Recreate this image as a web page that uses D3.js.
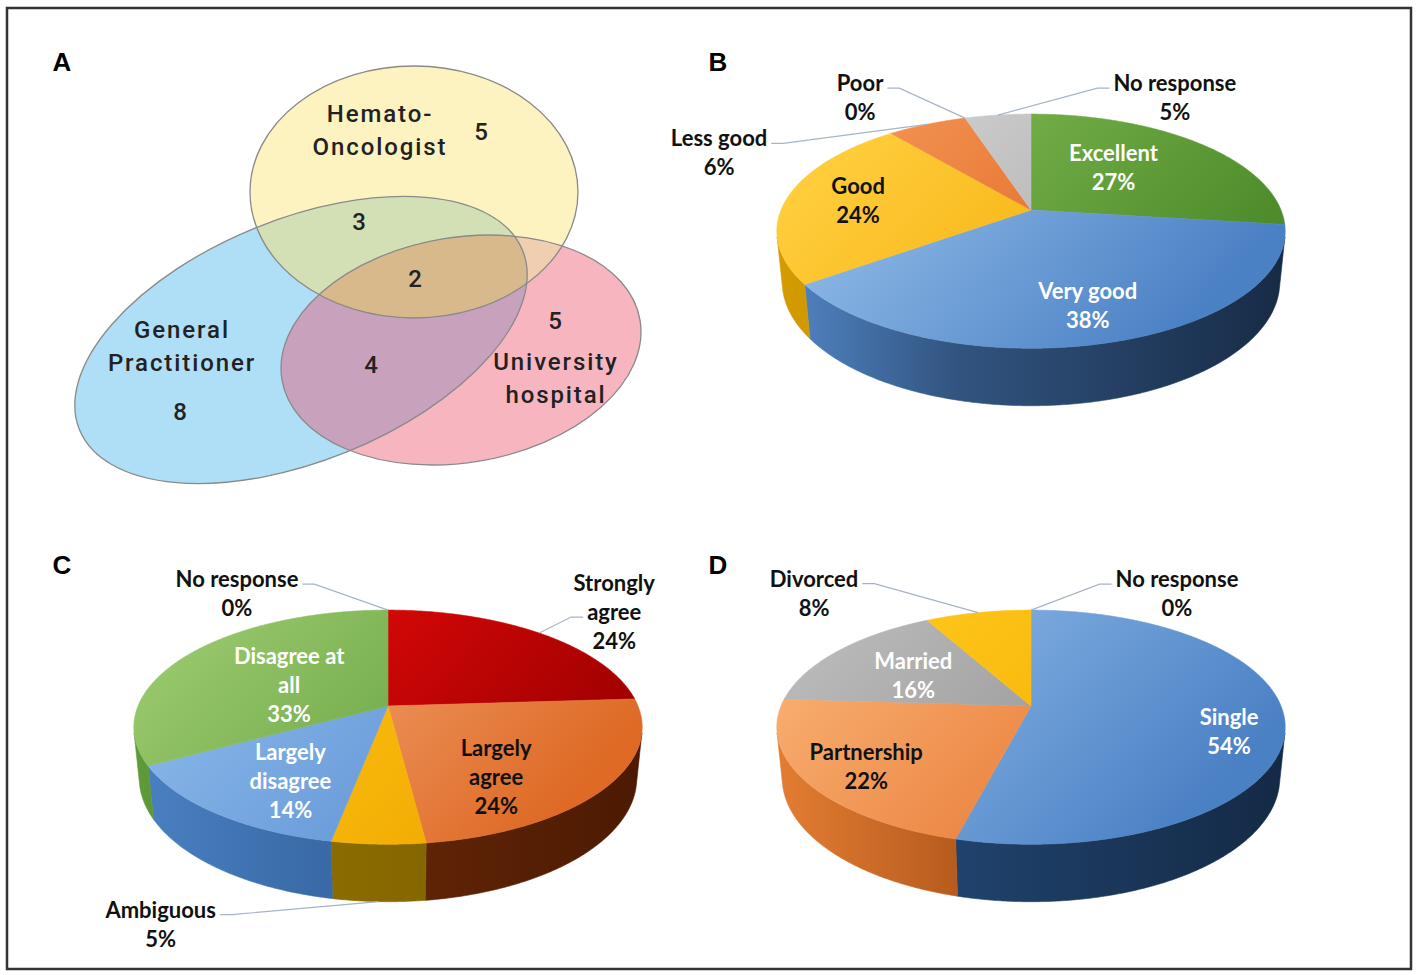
<!DOCTYPE html>
<html>
<head>
<meta charset="utf-8">
<script src="https://cdn.jsdelivr.net/npm/d3@7"></script>
<style>
  body { margin: 0; background: #fff; }
  svg { display: block; }
</style>
</head>
<body>
<script>
'use strict';

// ---- data ----
// A: Venn counts
const vennGroups = ["Hemato-\nOncologist", "General\nPractitioner", "University\nhospital"];
const vennRegions = ["H", "G", "U", "H+G", "G+U", "H+G+U"];
const vennCounts = [5, 8, 5, 3, 4, 2];

// B: rating
const ratingLabels = ["Excellent", "Very good", "Good", "Less good", "Poor", "No response"];
const ratingValues = [27, 38, 24, 6, 0, 5];

// C: agreement
const agreeLabels = ["Strongly agree", "Largely agree", "Ambiguous", "Largely disagree", "Disagree at all", "No response"];
const agreeValues = [24, 24, 5, 14, 33, 0];

// D: marital status
const statusLabels = ["Single", "Partnership", "Married", "Divorced", "No response"];
const statusValues = [54, 22, 16, 8, 0];

// ---- styles / layout ----
const panelLetters = ["A", "B", "C", "D"];
const letterPos = [[62, 62], [718, 62], [62, 565], [718, 565]];

const vennShapes = [
    { cx: 414, cy: 192, rx: 164, ry: 126, rot: 0 },
    { cx: 301, cy: 340, rx: 239, ry: 121, rot: -22 },
    { cx: 461, cy: 350, rx: 181.5, ry: 112.6, rot: -9.4 }
];
const vennFill = ["#FDF3C1", "#AEDFF7", "#F7B6BF"];
const vennPairFill = { HG: "#D3E0B6", GU: "#C8A2BC", HU: "#EFCFB0", HGU: "#D7B98B" };
const vennGroupPos = [[380, 113], [182, 329], [556, 361]];
const vennCountPos = [[482, 131], [181, 411], [556, 320], [360, 221], [372, 364], [416, 278]];

// perspective of the 3D pies (radius = 1 units)
const view = { kR: 250, sinE: 0.453, cosE: 0.891, D: 4.93, H: 0.23 };

const ratingColors = [
    { top: ["#82BC52", "#4C8A2A"], wall: ["#5E9A36", "#2E5A18"] },
    { top: ["#96C0EA", "#4A80C4"], wall: ["#5286C6", "#172B46"] },
    { top: ["#FFCD3C", "#F2A800"], wall: ["#D49C00", "#A87800"] },
    { top: ["#F39452", "#DE5E1C"], wall: ["#C0501A", "#8A3208"] },
    { top: ["#F39452", "#DE5E1C"], wall: ["#C0501A", "#8A3208"] },
    { top: ["#D2D2D2", "#A8A8A8"], wall: ["#A0A0A0", "#6A6A6A"] }
];
const agreeColors = [
    { top: ["#EC0A0A", "#9C0000"], wall: ["#900000", "#5A0000"] },
    { top: ["#F6AC7C", "#DE6A26"], wall: ["#8C3C10", "#4C1A02"] },
    { top: ["#FFC416", "#F0A800"], wall: ["#A07E00", "#7A5E00"] },
    { top: ["#8AB8E8", "#5A8ED4"], wall: ["#4A80C2", "#2C5A92"] },
    { top: ["#96C66A", "#5A9A36"], wall: ["#5E9A36", "#3C7420"] },
    { top: ["#D2D2D2", "#A8A8A8"], wall: ["#A0A0A0", "#6A6A6A"] }
];
const statusColors = [
    { top: ["#8EBAE8", "#4A80C4"], wall: ["#2E609A", "#142A46"] },
    { top: ["#F7AC6E", "#E6702A"], wall: ["#E27C32", "#94420E"] },
    { top: ["#B8B8B8", "#8C8C8C"], wall: ["#8C8C8C", "#5A5A5A"] },
    { top: ["#FFC81C", "#F4AC00"], wall: ["#C89400", "#9A7200"] },
    { top: ["#D2D2D2", "#A8A8A8"], wall: ["#A0A0A0", "#6A6A6A"] }
];

// inside labels: index -> [radius, dx, dy, colour]; outside: index -> [radius, level, dx, dy, leaderLine]
const ratingInside = { 0: [0.5, -6, -7, "#fff"], 1: [0.75, 3, 1, "#fff"], 2: [0.65, -14, 0, "#111"] };
const ratingOutside = { 3: [1, 0, -208, 14, 0], 4: [1, 0, -105, -35, 0], 5: [1, 0, 177, -32, 0] };
const agreeInside = { 4: [0.5, 4, 7, "#fff"], 3: [0.7, 17, 4, "#fff"], 1: [0.6, -16, 25, "#111"] };
const agreeOutside = { 5: [1, 0, -151, -31, 0], 0: [1, 0, 75, -50, 1], 2: [1, 1, -218, 8, 0] };
const statusInside = { 0: [0.8, -4, 14, "#fff"], 1: [0.75, 0, 6, "#111"], 2: [0.6, 2, 4, "#fff"] };
const statusOutside = { 3: [1, 0, -164, -34, 0], 4: [1, 0, 146, -31, 0] };

const W = 1417, H = 975;
const lineH = 29;
const pieFont = "Lato, 'Open Sans', sans-serif";

const svg = d3.select("body").append("svg")
    .attr("width", W)
    .attr("height", H);
const defs = svg.append("defs");

// frame
svg.append("rect")
    .attr("x", 7).attr("y", 8)
    .attr("width", 1404).attr("height", 961)
    .attr("fill", "none")
    .attr("stroke", "#333")
    .attr("stroke-width", 2.5);

// panel letters
svg.selectAll("text.panel")
    .data(panelLetters)
    .enter()
    .append("text")
    .attr("class", "panel")
    .attr("x", (d, i) => letterPos[i][0])
    .attr("y", (d, i) => letterPos[i][1])
    .attr("dy", "0.36em")
    .attr("text-anchor", "middle")
    .style("font-family", "'Liberation Sans', Arial, sans-serif")
    .style("font-weight", "bold")
    .style("font-size", "26px")
    .text(d => d);

// ---- A: Venn ----
function drawVenn() {
    const g = svg.append("g");
    const ell = (sel, s) => sel
        .attr("cx", 0).attr("cy", 0)
        .attr("rx", s.rx).attr("ry", s.ry)
        .attr("transform", `translate(${s.cx},${s.cy}) rotate(${s.rot})`);

    vennShapes.forEach((s, i) => {
        defs.append("clipPath").attr("id", "vclip" + i)
            .append("ellipse").call(ell, s);
    });

    // single sets (blue first, then pink, then yellow)
    [1, 2, 0].forEach(i => {
        g.append("ellipse").call(ell, vennShapes[i]).attr("fill", vennFill[i]);
    });
    // pairs
    g.append("g").attr("clip-path", "url(#vclip1)")
        .append("ellipse").call(ell, vennShapes[0]).attr("fill", vennPairFill.HG);
    g.append("g").attr("clip-path", "url(#vclip2)")
        .append("ellipse").call(ell, vennShapes[1]).attr("fill", vennPairFill.GU);
    g.append("g").attr("clip-path", "url(#vclip2)")
        .append("ellipse").call(ell, vennShapes[0]).attr("fill", vennPairFill.HU);
    // triple
    g.append("g").attr("clip-path", "url(#vclip1)")
        .append("g").attr("clip-path", "url(#vclip2)")
        .append("ellipse").call(ell, vennShapes[0]).attr("fill", vennPairFill.HGU);
    // outlines
    vennShapes.forEach(s => {
        g.append("ellipse").call(ell, s)
            .attr("fill", "none")
            .attr("stroke", "#8a8a8a")
            .attr("stroke-width", 1.3);
    });

    const txt = (x, y, t) => g.append("text")
        .attr("x", x).attr("y", y).attr("dy", "0.36em")
        .attr("text-anchor", "middle")
        .style("font-family", "Roboto, 'Liberation Sans', sans-serif")
        .style("font-weight", 500)
        .style("font-size", "24px")
        .style("letter-spacing", "1.9px")
        .attr("fill", "#222")
        .text(t);

    vennGroups.forEach((name, i) => {
        name.split("\n").forEach((ln, k) => {
            txt(vennGroupPos[i][0], vennGroupPos[i][1] + k * 33, ln);
        });
    });
    vennCounts.forEach((n, i) => {
        txt(vennCountPos[i][0], vennCountPos[i][1], n);
    });
}

// ---- 3D pies ----
function project(cx, cy, a, r, level) {
    const x = r * Math.sin(a), z = -r * Math.cos(a), y = -level * view.H;
    const vy = y * view.cosE - z * view.sinE;
    const depth = view.D - (y * view.sinE + z * view.cosE);
    const s = view.kR * view.D / depth;
    return [cx + x * s, cy - vy * s];
}

const silA = Math.acos(-1 / (view.D * view.cosE));
const silB = 2 * Math.PI - silA;

function wrap(name) {
    if (name.length <= 11) return [name];
    const words = name.split(" ");
    const lines = [];
    let cur = "";
    words.forEach(w => {
        const t = cur ? cur + " " + w : w;
        if (t.length > 11 && cur) { lines.push(cur); cur = w; } else { cur = t; }
    });
    lines.push(cur);
    return lines;
}

function drawPie(id, cx, cy, labels, values, colors, inside, outside) {
    const g = svg.append("g");
    const arcs = d3.pie().sort(null).value(d => d)(values);
    const step = Math.PI / 360;
    const proj = (a, r, lv) => project(cx, cy, a, r, lv);
    const edge = (a0, a1, lv) => {
        const n = Math.max(2, Math.ceil((a1 - a0) / step));
        return d3.range(n + 1).map(k => proj(a0 + (a1 - a0) * k / n, 1, lv));
    };
    const line = d3.line();

    arcs.forEach((d, i) => {
        const c = colors[i];
        const tg = defs.append("linearGradient")
            .attr("id", `top-${id}-${i}`)
            .attr("gradientUnits", "userSpaceOnUse")
            .attr("x1", cx - 0.6 * view.kR).attr("y1", cy - 110)
            .attr("x2", cx + 0.5 * view.kR).attr("y2", cy + 150);
        tg.append("stop").attr("offset", 0).attr("stop-color", c.top[0]);
        tg.append("stop").attr("offset", 1).attr("stop-color", c.top[1]);

        const wg = defs.append("linearGradient")
            .attr("id", `wall-${id}-${i}`)
            .attr("gradientUnits", "userSpaceOnUse")
            .attr("x1", cx - view.kR).attr("y1", 0)
            .attr("x2", cx + view.kR).attr("y2", 0);
        wg.append("stop").attr("offset", 0).attr("stop-color", c.wall[0]);
        wg.append("stop").attr("offset", 0.35).attr("stop-color", d3.interpolateRgb(c.wall[0], c.wall[1])(0.55));
        wg.append("stop").attr("offset", 1).attr("stop-color", c.wall[1]);
    });

    // outer walls (front half only)
    arcs.forEach((d, i) => {
        const a0 = Math.max(d.startAngle, silA), a1 = Math.min(d.endAngle, silB);
        if (a1 <= a0) return;
        const pts = edge(a0, a1, 0).concat(edge(a0, a1, 1).reverse());
        g.append("path")
            .attr("d", line(pts) + "Z")
            .attr("fill", `url(#wall-${id}-${i})`)
            .attr("stroke", `url(#wall-${id}-${i})`)
            .attr("stroke-width", 0.6);
    });

    // top faces
    arcs.forEach((d, i) => {
        if (d.endAngle - d.startAngle <= 0) return;
        const pts = [proj(0, 0, 0)].concat(edge(d.startAngle, d.endAngle, 0));
        g.append("path")
            .attr("d", line(pts) + "Z")
            .attr("fill", `url(#top-${id}-${i})`)
            .attr("stroke", `url(#top-${id}-${i})`)
            .attr("stroke-width", 0.6);
    });

    const addText = (x, y, t, fill) => g.append("text")
        .attr("x", x).attr("y", y).attr("dy", "0.36em")
        .attr("text-anchor", "middle")
        .style("font-family", pieFont)
        .style("font-weight", "bold")
        .style("font-size", "22px")
        .attr("fill", fill)
        .text(t);

    // inside labels
    Object.keys(inside).forEach(k => {
        const d = arcs[k];
        const [r, dx, dy, fill] = inside[k];
        const mid = (d.startAngle + d.endAngle) / 2;
        const p = proj(mid, r, 0);
        const lines = wrap(labels[k]).concat([values[k] + "%"]);
        const y0 = p[1] + dy - (lines.length - 1) * lineH / 2;
        lines.forEach((ln, j) => addText(p[0] + dx, y0 + j * lineH, ln, fill));
    });

    // outside labels with leader lines
    Object.keys(outside).forEach(k => {
        const d = arcs[k];
        const [r, lv, dx, dy, attach] = outside[k];
        const mid = (d.startAngle + d.endAngle) / 2;
        const e = proj(mid, r, lv);
        const lines = wrap(labels[k]).concat([values[k] + "%"]);
        const tx = e[0] + dx, ty = e[1] + dy;
        const nodes = lines.map((ln, j) => addText(tx, ty + j * lineH, ln, "#111"));
        const w = nodes[attach].node().getComputedTextLength();
        const ly = ty + attach * lineH + 5;
        const sx = dx < 0 ? tx + w / 2 + 4 : tx - w / 2 - 4;
        const ex = dx < 0 ? sx + 12 : sx - 12;
        g.insert("path", "text")
            .attr("d", line([[sx, ly], [ex, ly], e]))
            .attr("fill", "none")
            .attr("stroke", "#A6B4C8")
            .attr("stroke-width", 1.2);
    });
}

drawVenn();
drawPie("b", 1031, 210, ratingLabels, ratingValues, ratingColors, ratingInside, ratingOutside);
drawPie("c", 388, 706, agreeLabels, agreeValues, agreeColors, agreeInside, agreeOutside);
drawPie("d", 1031, 706, statusLabels, statusValues, statusColors, statusInside, statusOutside);
</script>
</body>
</html>
